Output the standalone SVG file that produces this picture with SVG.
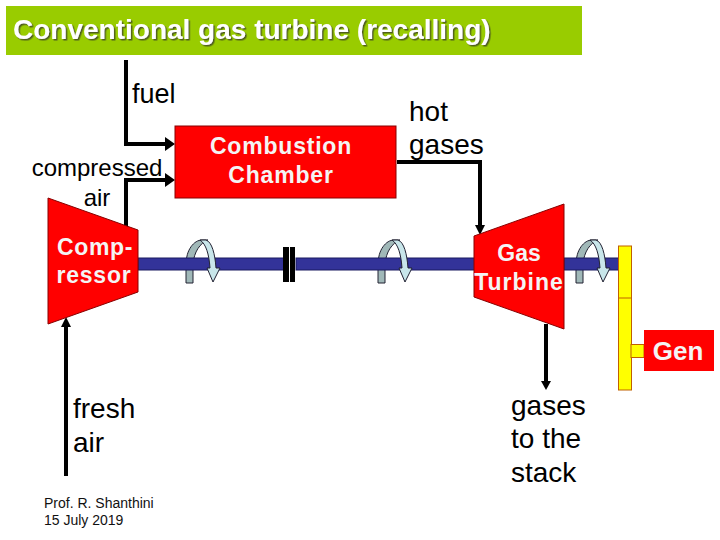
<svg xmlns="http://www.w3.org/2000/svg" width="720" height="540" viewBox="0 0 720 540">
<defs>
<style>
text{font-family:"Liberation Sans",Arial,sans-serif}
.t{font-size:28px;fill:#000}
.s{font-size:24px;fill:#000}
.w{font-size:23px;fill:#f4f4f4;font-weight:bold;text-anchor:middle}
.red{fill:#f00;stroke:#800;stroke-width:1}
.pipe{fill:none;stroke:#000;stroke-width:4}
.ah{fill:#000;stroke:none}
.shaft{fill:#333399;stroke:#1a1a60;stroke-width:1}
.yel{fill:#ff0;stroke:#c06000;stroke-width:1}
</style>
<filter id="soft" x="-5%" y="-20%" width="110%" height="150%">
<feDropShadow dx="1.5" dy="1.5" stdDeviation="0.6" flood-color="#4f5f1a"/>
</filter>
<path id="rotb" d="M0 43V24C0 10 8 0 16 0H22C14 3 8 12 7 24V43Z" fill="#a0b8b8" stroke="#223" stroke-width="1"/>
<path id="rotf" d="M14 0H20C26 2 29 14 30 28H34L27 42L21 28H24C23 14 20 4 14 0Z" fill="#c8e6ea" stroke="#223" stroke-width="1"/>
</defs>
<rect x="6" y="6" width="576" height="49" fill="#99cc00"/>
<text x="13" y="39" font-size="28" font-weight="bold" fill="#fff" filter="url(#soft)" id="title">Conventional gas turbine (recalling)</text>
<g id="connectors">
<path class="pipe" d="M126 60V144H166"/>
<path class="ah" d="M165 137L175 144L165 151Z"/>
<path class="pipe" d="M126 228V180H166"/>
<path class="ah" d="M165 173L175 180L165 187Z"/>
<path class="pipe" d="M397 162H480V226"/>
<path class="ah" d="M475 225H485L480 235Z"/>
<path class="pipe" d="M546 324V382"/>
<path class="ah" d="M541 381H551L546 390Z"/>
<path class="pipe" d="M66 476V326"/>
<path class="ah" d="M61 327H71L66 317Z"/>
</g>
<use href="#rotb" x="186" y="240"/>
<use href="#rotb" x="378" y="240"/>
<use href="#rotb" x="576" y="240"/>
<g id="shaft">
<rect class="shaft" x="138" y="258" width="146" height="12"/>
<rect class="shaft" x="296" y="258" width="180" height="12"/>
<rect class="shaft" x="564" y="258" width="55" height="12"/>
<rect x="283" y="247" width="6" height="35" fill="#000"/>
<rect x="290" y="247" width="5" height="35" fill="#000"/>
</g>
<use href="#rotf" x="186" y="240"/>
<use href="#rotf" x="378" y="240"/>
<use href="#rotf" x="576" y="240"/>
<g id="combustion-chamber">
<rect class="red" x="175" y="126" width="221" height="72"/>
<text class="w" x="281" y="154" letter-spacing="0.8">Combustion</text>
<text class="w" x="281" y="183" letter-spacing="0.8">Chamber</text>
</g>
<g id="compressor">
<path class="red" d="M48 198L138 230V292L48 324Z"/>
<text class="w" x="95" y="255" letter-spacing="0.6">Comp-</text>
<text class="w" x="94" y="283" letter-spacing="0.8">ressor</text>
</g>
<g id="turbine">
<path class="red" d="M474 236L564 204V329L474 297Z"/>
<text class="w" x="519" y="261">Gas</text>
<text class="w" x="519" y="290" letter-spacing="1">Turbine</text>
</g>
<g id="generator">
<rect class="yel" x="618.500" y="246" width="13" height="144"/>
<line x1="619" y1="298" x2="631" y2="298" stroke="#c06000"/>
<rect class="yel" x="631" y="344.500" width="13" height="13"/>
<rect x="644" y="330" width="70" height="41" fill="#f00"/>
<text class="w" x="678" y="360" style="font-size:26px">Gen</text>
</g>
<g id="labels">
<text x="132" y="103" style="font-size:27px">fuel</text>
<text class="s" x="97" y="176" text-anchor="middle">compressed</text>
<text class="s" x="97" y="206" text-anchor="middle">air</text>
<text class="t" x="409" y="121">hot</text>
<text class="t" x="409" y="154">gases</text>
<text class="t" x="73" y="418">fresh</text>
<text class="t" x="73" y="452">air</text>
<text class="t" x="511" y="415">gases</text>
<text class="t" x="511" y="448">to the</text>
<text class="t" x="511" y="482">stack</text>
<text x="44" y="508" font-size="14" fill="#111">Prof. R. Shanthini</text>
<text x="44" y="525" font-size="14" fill="#111">15 July 2019</text>
</g>
</svg>
